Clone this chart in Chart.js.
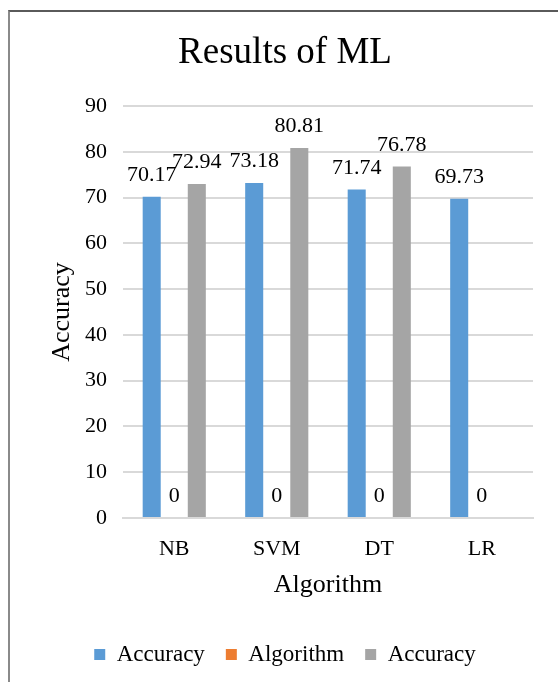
<!DOCTYPE html>
<html><head><meta charset="utf-8">
<script src="https://cdn.jsdelivr.net/npm/chart.js@4.4.1/dist/chart.umd.min.js"></script>
<style>
html,body{margin:0;padding:0;background:#fff;overflow:hidden;width:558px;height:682px;}
#wrap{position:absolute;left:0;top:0;width:570px;height:682px;}
#frame{position:absolute;left:8px;top:10px;width:620px;height:720px;border-left:2px solid #8a8a8a;border-top:2px solid #5a5a5a;pointer-events:none;}
</style></head><body>
<div id="wrap"><canvas id="c" width="570" height="682"></canvas></div>
<div id="frame"></div>
<script>
const categories = ['NB', 'SVM', 'DT', 'LR'];
const accuracySeries1 = [70.17, 73.18, 71.74, 69.73];
const algorithmSeries = [0, 0, 0, 0];
const accuracySeries2 = [72.94, 80.81, 76.78, null];
const seriesNames = ['Accuracy', 'Algorithm', 'Accuracy'];
const yMin = 0, yMax = 90, yStep = 10;

const FONT = "'Liberation Serif', 'Times New Roman', serif";
const PAD_BOTTOM = 6;
const PLOT_BOTTOM = 518;

const valueLabels = {
  id: 'valueLabels',
  afterDatasetsDraw(chart) {
    const ctx = chart.ctx;
    ctx.save();
    ctx.font = '22px ' + FONT;
    ctx.fillStyle = '#000';
    ctx.textAlign = 'center';
    ctx.textBaseline = 'alphabetic';
    chart.data.datasets.forEach((ds, i) => {
      const meta = chart.getDatasetMeta(i);
      meta.data.forEach((el, j) => {
        const v = ds.data[j];
        if (v === null || v === undefined) return;
        ctx.fillText(String(v), el.x, el.y - 16);
      });
    });
    ctx.restore();
  }
};

new Chart(document.getElementById('c'), {
  type: 'bar',
  data: {
    labels: categories,
    datasets: [
      { label: seriesNames[0], data: accuracySeries1, backgroundColor: '#5B9BD5' },
      { label: seriesNames[1], data: algorithmSeries, backgroundColor: '#ED7D31' },
      { label: seriesNames[2], data: accuracySeries2, backgroundColor: '#A5A5A5' }
    ]
  },
  options: {
    responsive: false,
    animation: false,
    layout: { padding: { top: 0, left: 0, right: 0, bottom: PAD_BOTTOM } },
    datasets: { bar: { categoryPercentage: 0.66, barPercentage: 0.8, borderWidth: 0 } },
    plugins: {
      title: {
        display: true, text: 'Results of ML', color: '#000',
        font: { family: FONT, size: 37, weight: 'normal' },
        padding: { top: 31.5, bottom: 30.1 }
      },
      legend: {
        position: 'bottom',
        labels: {
          color: '#000', boxWidth: 11, boxHeight: 11, padding: 21,
          font: { family: FONT, size: 23 }
        }
      },
      tooltip: { enabled: false }
    },
    scales: {
      x: {
        grid: { display: false },
        border: { display: true, color: '#d9d9d9', width: 2 },
        ticks: { color: '#000', padding: 10, font: { family: FONT, size: 22 } },
        title: { display: true, text: 'Algorithm', color: '#000', font: { family: FONT, size: 26 }, padding: { top: 0, bottom: 21 } },
        afterFit(s) {
          const lh = s.chart.legend ? s.chart.legend.height : 40;
          s.height = s.chart.height - PAD_BOTTOM - lh - PLOT_BOTTOM;
        }
      },
      y: {
        min: yMin, max: yMax,
        grid: { color: '#d9d9d9', lineWidth: 2, drawTicks: false },
        border: { display: false },
        ticks: { stepSize: yStep, color: '#000', padding: 16, font: { family: FONT, size: 22 } },
        title: { display: true, text: 'Accuracy', color: '#000', font: { family: FONT, size: 26 }, padding: { top: 47, bottom: 0 } },
        afterFit(s) { s.width = 123; }
      },
      y2: {
        type: 'linear', position: 'right', display: true,
        grid: { display: false }, border: { display: false }, ticks: { display: false },
        afterFit(s) { s.width = 37; }
      }
    }
  },
  plugins: [valueLabels]
});
</script>
</body></html>
